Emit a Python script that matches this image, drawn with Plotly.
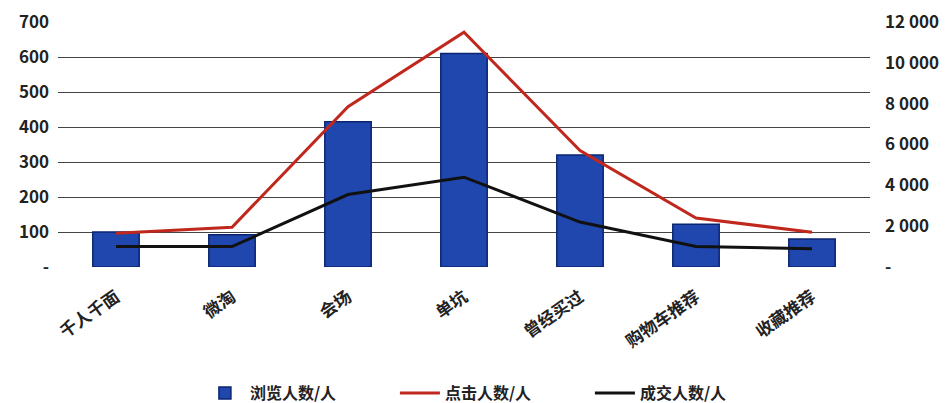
import plotly.graph_objects as go

categories = ["千人千面", "微淘", "会场", "单坑", "曾经买过", "购物车推荐", "收藏推荐"]
views = [100, 92, 415, 610, 320, 122, 80]          # 浏览人数/人 (left axis)
clicks = [1650, 1950, 7850, 11500, 5700, 2400, 1700]  # 点击人数/人 (right axis)
deals = [1000, 1000, 3550, 4400, 2200, 1000, 900]     # 成交人数/人 (right axis)

left_ticks = [0, 100, 200, 300, 400, 500, 600, 700]
left_text = ["-", "100", "200", "300", "400", "500", "600", "700"]
right_ticks = [0, 2000, 4000, 6000, 8000, 10000, 12000]
right_text = ["-", "2 000", "4 000", "6 000", "8 000", "10 000", "12 000"]

font_family = "Noto Sans CJK SC"

fig = go.Figure()
fig.add_trace(go.Bar(
    x=categories, y=views, name="浏览人数/人",
    marker=dict(color="#1f47ad", line=dict(color="#0b2470", width=1.5)),
    yaxis="y",
))
fig.add_trace(go.Scatter(
    x=categories, y=clicks, name="点击人数/人", mode="lines",
    line=dict(color="#c0281e", width=3), yaxis="y2",
))
fig.add_trace(go.Scatter(
    x=categories, y=deals, name="成交人数/人", mode="lines",
    line=dict(color="#111111", width=3), yaxis="y2",
))

fig.update_layout(
    width=946, height=403,
    margin=dict(l=58, r=76, t=22, b=136, autoexpand=False),
    paper_bgcolor="white", plot_bgcolor="white",
    font=dict(family=font_family, size=14, color="#222"),
    bargap=0.6,
    showlegend=True,
    legend=dict(orientation="h", x=0.535, xanchor="center", y=-0.515, yanchor="middle",
                font=dict(family=font_family, size=16, color="#222", weight="bold"),
                itemwidth=40, entrywidth=140, traceorder="normal"),
    xaxis=dict(
        tickangle=-35, showgrid=False, showline=False, ticks="", automargin=False,
        ticklabelstandoff=16,
        tickfont=dict(family=font_family, size=17, color="#222", weight="bold"),
    ),
    yaxis=dict(
        range=[0, 700], tickvals=left_ticks, ticktext=left_text, automargin=False,
        showgrid=True, gridcolor="#444", gridwidth=1, zeroline=False,
        tickfont=dict(family=font_family, size=17, color="#222", weight="bold"),
        ticklabelstandoff=8,
    ),
    yaxis2=dict(
        range=[0, 12000], tickvals=right_ticks, ticktext=right_text, automargin=False,
        overlaying="y", side="right", showgrid=False, zeroline=False,
        tickfont=dict(family=font_family, size=17, color="#222", weight="bold"),
        ticklabelstandoff=14,
    ),
)

fig.write_html("out.html")
